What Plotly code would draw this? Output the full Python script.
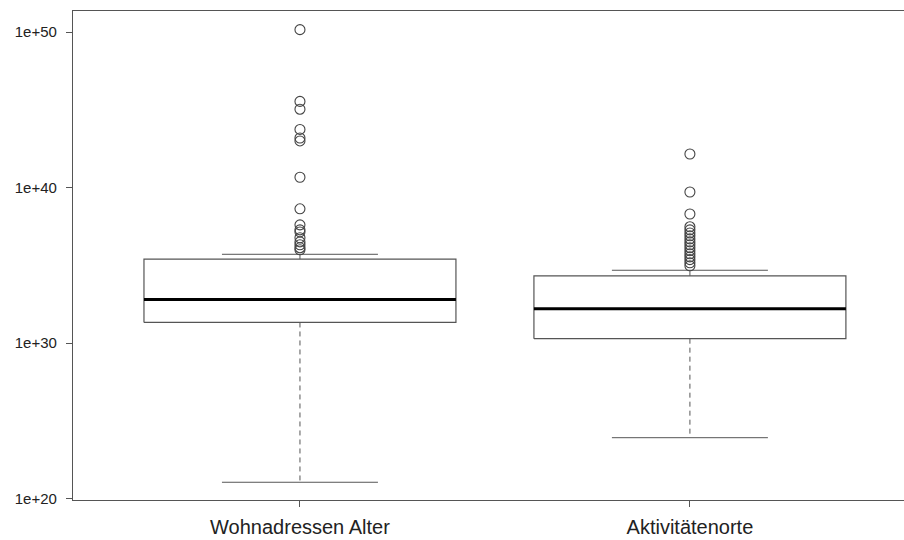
import plotly.graph_objects as go

categories = ["Wohnadressen Alter", "Aktivitätenorte"]
positions = [1, 2]
lower_whisker = [1.1e21, 8.1e23]
q1 = [2.1e31, 1.9e30]
median = [6.2e32, 1.6e32]
q3 = [2.5e35, 2.1e34]
upper_whisker = [5.1e35, 4.8e34]
outliers = [
    [1.45e50, 3.5e45, 1.1e45, 5.5e43, 1.55e43, 1.0e43, 4.6e40, 4.3e38, 4.0e37,
     1.9e37, 1.4e37, 5.9e36, 3.2e36, 2.1e36, 1.35e36, 1.0e36],
    [1.45e42, 5.2e39, 2.0e38, 3.0e37, 1.9e37, 1.2e37, 7.9e36, 5.0e36, 3.2e36,
     2.1e36, 1.35e36, 8.7e35, 5.5e35, 3.5e35, 2.3e35, 1.45e35, 9.3e34],
]
y_tickvals = [1e20, 1e30, 1e40, 1e50]
y_ticktext = ["1e+20", "1e+30", "1e+40", "1e+50"]

HALF_BOX = 0.4
HALF_CAP = 0.2
LINE = "#555555"
FONT = "Liberation Sans, Arial, sans-serif"

fig = go.Figure()
for i, c in enumerate(positions):
    # dashed whiskers
    fig.add_trace(go.Scatter(x=[c, c], y=[q3[i], upper_whisker[i]], mode="lines",
                             line=dict(color=LINE, width=1, dash="5px,4px"), hoverinfo="skip"))
    fig.add_trace(go.Scatter(x=[c, c], y=[q1[i], lower_whisker[i]], mode="lines",
                             line=dict(color=LINE, width=1, dash="5px,4px"), hoverinfo="skip"))
    # caps
    for w in (upper_whisker[i], lower_whisker[i]):
        fig.add_trace(go.Scatter(x=[c - HALF_CAP, c + HALF_CAP], y=[w, w], mode="lines",
                                 line=dict(color=LINE, width=1), hoverinfo="skip"))
    # box
    fig.add_trace(go.Scatter(
        x=[c - HALF_BOX, c + HALF_BOX, c + HALF_BOX, c - HALF_BOX, c - HALF_BOX],
        y=[q1[i], q1[i], q3[i], q3[i], q1[i]], mode="lines",
        line=dict(color=LINE, width=1.2), hoverinfo="skip"))
    # median
    fig.add_trace(go.Scatter(x=[c - HALF_BOX, c + HALF_BOX], y=[median[i], median[i]],
                             mode="lines", line=dict(color="#000000", width=3), hoverinfo="skip"))
    # outliers
    fig.add_trace(go.Scatter(x=[c] * len(outliers[i]), y=outliers[i], mode="markers",
                             marker=dict(symbol="circle-open", size=10,
                                         color="#444444", line=dict(width=1.1)),
                             hoverinfo="skip"))

fig.update_layout(
    width=904, height=540,
    margin=dict(l=73, r=0, t=11, b=40),
    plot_bgcolor="white", paper_bgcolor="white",
    showlegend=False,
    font=dict(family=FONT, color="#222222"),
)
fig.update_xaxes(
    range=[0.418, 2.549], tickvals=positions, ticktext=categories,
    showline=True, mirror=True, linecolor=LINE, linewidth=1.2,
    ticks="outside", ticklen=6, tickcolor=LINE, showgrid=False, zeroline=False,
    ticklabelstandoff=3,
    tickfont=dict(size=20, family=FONT, color="#222222"),
)
fig.update_yaxes(
    type="log", range=[19.9, 51.36], tickvals=y_tickvals, ticktext=y_ticktext,
    showline=True, linecolor=LINE, linewidth=1.2,
    ticks="outside", ticklen=6, tickcolor=LINE, showgrid=False, zeroline=False,
    ticklabelstandoff=6,
    tickfont=dict(size=15, family=FONT, color="#222222"),
)

fig.write_html("out.html")
